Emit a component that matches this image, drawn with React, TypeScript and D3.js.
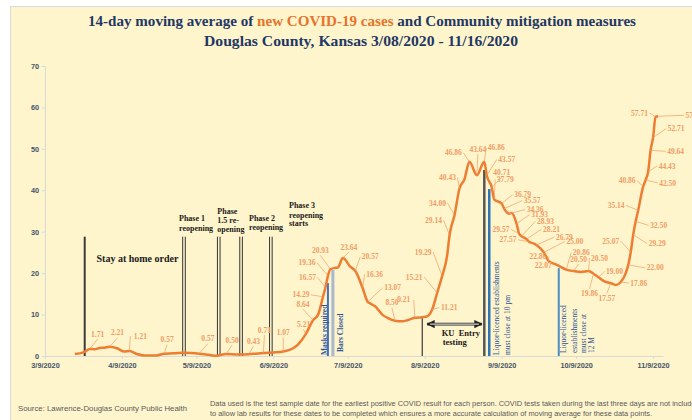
import React, { useEffect, useRef } from 'react';
import * as d3 from 'd3';

// 14-day moving average (date, cases)
const caseDates = [
  '2020-03-21', '2020-03-23', '2020-03-25', '2020-03-27', '2020-03-29', '2020-03-31',
  '2020-04-02', '2020-04-04', '2020-04-07', '2020-04-10', '2020-04-12', '2020-04-15',
  '2020-04-18', '2020-04-23', '2020-04-26', '2020-04-30', '2020-05-04', '2020-05-07',
  '2020-05-10', '2020-05-14', '2020-05-17', '2020-05-21', '2020-05-26', '2020-05-30',
  '2020-06-02', '2020-06-05', '2020-06-09', '2020-06-13', '2020-06-17', '2020-06-19',
  '2020-06-22', '2020-06-25', '2020-06-27', '2020-06-29', '2020-06-30', '2020-07-01',
  '2020-07-02', '2020-07-04', '2020-07-05', '2020-07-07', '2020-07-10', '2020-07-12',
  '2020-07-15', '2020-07-17', '2020-07-18', '2020-07-20', '2020-07-23', '2020-07-25',
  '2020-07-28', '2020-07-31', '2020-08-02', '2020-08-05', '2020-08-08', '2020-08-10',
  '2020-08-12', '2020-08-14', '2020-08-16', '2020-08-18', '2020-08-19', '2020-08-21',
  '2020-08-23', '2020-08-25', '2020-08-27', '2020-08-30', '2020-09-02', '2020-09-03',
  '2020-09-05', '2020-09-06', '2020-09-09', '2020-09-10', '2020-09-12', '2020-09-13',
  '2020-09-15', '2020-09-16', '2020-09-17', '2020-09-19', '2020-09-20', '2020-09-22',
  '2020-09-23', '2020-09-26', '2020-09-28', '2020-10-01', '2020-10-05', '2020-10-08',
  '2020-10-11', '2020-10-14', '2020-10-16', '2020-10-18', '2020-10-20', '2020-10-23',
  '2020-10-25', '2020-10-27', '2020-10-29', '2020-10-30', '2020-10-31', '2020-11-01',
  '2020-11-02', '2020-11-03', '2020-11-05', '2020-11-06', '2020-11-07', '2020-11-08',
  '2020-11-09', '2020-11-10', '2020-11-11',
];
const caseAvg = [
  0.5, 0.64, 1.0, 1.71, 1.64, 1.93,
  2.0, 2.21, 1.86, 1.07, 1.21, 0.5,
  0.14, 0.14, 0.57, 0.64, 0.79, 0.71,
  0.57, 0.29, 0.07, 0.5, 0.36, 0.43,
  0.57, 0.71, 0.86, 1.07, 1.86, 2.79,
  5.21, 8.64, 9.93, 14.29, 16.57, 19.36,
  20.93, 21.29, 21.36, 23.64, 21.57, 20.57,
  16.36, 13.07, 12.71, 12.0, 9.93, 9.21,
  8.5, 8.36, 8.64, 9.21, 9.36, 9.57,
  11.21, 15.21, 19.29, 24.14, 29.14, 34.0,
  40.43, 42.64, 46.86, 43.64, 46.86, 43.57,
  40.71, 37.79, 36.79, 35.57, 34.36, 34.5,
  31.93, 29.57, 28.93, 28.21, 27.57, 27.14,
  26.79, 25.0, 22.86, 22.07, 20.86, 20.5,
  20.29, 20.5, 19.86, 19.0, 18.14, 17.57,
  17.14, 17.86, 20.0, 22.0, 25.07, 29.29,
  32.5, 35.14, 40.86, 42.5, 44.43, 49.64,
  52.71, 57.71, 57.86,
];

// which points carry a data label
const labelDates = [
  '2020-03-27', '2020-04-04', '2020-04-12', '2020-04-26', '2020-05-10', '2020-05-21',
  '2020-05-30', '2020-06-05', '2020-06-13', '2020-06-22', '2020-06-25', '2020-06-29',
  '2020-06-30', '2020-07-01', '2020-07-02', '2020-07-07', '2020-07-12', '2020-07-15',
  '2020-07-17', '2020-07-28', '2020-08-05', '2020-08-12', '2020-08-14', '2020-08-16',
  '2020-08-19', '2020-08-21', '2020-08-23', '2020-08-27', '2020-08-30', '2020-09-02',
  '2020-09-03', '2020-09-05', '2020-09-06', '2020-09-09', '2020-09-10', '2020-09-12',
  '2020-09-15', '2020-09-16', '2020-09-17', '2020-09-19', '2020-09-20', '2020-09-23',
  '2020-09-26', '2020-09-28', '2020-10-01', '2020-10-05', '2020-10-08', '2020-10-14',
  '2020-10-16', '2020-10-18', '2020-10-23', '2020-10-27', '2020-10-30', '2020-10-31',
  '2020-11-01', '2020-11-02', '2020-11-03', '2020-11-05', '2020-11-06', '2020-11-07',
  '2020-11-08', '2020-11-09', '2020-11-10', '2020-11-11',
];
// label placement relative to its point (px)
const labelOffsets: [number, number][] = [
  [8, -15], [8, -14], [11, -15], [3, -14], [9, -15], [6, -14],
  [5, -13], [1, -23], [0, -19], [-2, -10], [-10, -16], [-22, -2],
  [-18, -10], [-21, -13], [-10, -19], [6, -11], [15, -14], [12, -14],
  [25, -14], [-3, -18], [-11, -18], [17, -2], [-23, -16], [-19, -24],
  [-16, -15], [-17, -12], [-12, -11], [-16, -9], [1, -26], [12, -14],
  [20, -16], [10, -15], [11, -20], [21, -9], [28, -8], [26, -4],
  [23, -9], [-18, -4], [24, -15], [25, -10], [-21, -2], [28, -8],
  [31, -11], [-11, -5], [-13, 1], [15, -17], [5, -12], [11, -13],
  [-4, 20], [16, -6], [-4, 15], [18, 1], [27, 3], [-20, -11],
  [24, 9], [23, 4], [-22, -5], [-16, -6], [22, 3], [19, -6],
  [25, 1], [23, -9], [-16, -4], [36, -1],
];

const xTickDates = [
  '2020-03-09', '2020-04-09', '2020-05-09', '2020-06-09', '2020-07-09',
  '2020-08-09', '2020-09-09', '2020-10-09', '2020-11-09',
];
const yTicks = [0, 10, 20, 30, 40, 50, 60, 70];

// mitigation measures: date of the marker line and how high it reaches (cases)
const stayHome = { date: '2020-03-25', top: 28.8 };
const phaseDates = ['2020-05-04', '2020-05-18', '2020-05-27', '2020-06-08'];
const phaseTop = 28.8;
const masks = { date: '2020-07-01', top: 17.6 };
const barsClosed = { date: '2020-07-03', top: 20.8 };
const kuEntry = { date: '2020-08-08', top: 9.4, arrowFrom: '2020-08-10', arrowTo: '2020-09-01', level: 7.7 };
const liquor10Gray = { date: '2020-09-02', top: 44.9 };
const liquor10Blue = { date: '2020-09-04', top: 40.3 };
const liquor12 = { date: '2020-10-02', top: 21.2 };

const parse = d3.timeParse('%Y-%m-%d');
const W = 692;
const H = 420;

const serif = "'Liberation Serif', 'DejaVu Serif', serif";
const sans = "'Liberation Sans', Arial, sans-serif";
const navy = '#1F3864';
const lineOrange = '#ED7D31';
const labelOrange = '#EF9C64';
const annoBlue = '#2F5597';

const App = () => {
  const xAxisRef = useRef<SVGGElement | null>(null);
  const yAxisRef = useRef<SVGGElement | null>(null);

  const x = d3
    .scaleTime()
    .domain([parse('2020-03-09') as Date, parse('2020-11-13') as Date])
    .range([45, 663]);
  const y = d3.scaleLinear().domain([0, 70]).range([356, 66]);

  const points = caseDates.map((d, i) => ({ date: parse(d) as Date, value: caseAvg[i] }));
  const line = d3
    .line<{ date: Date; value: number }>()
    .x((d) => x(d.date))
    .y((d) => y(d.value))
    .curve(d3.curveMonotoneX);

  useEffect(() => {
    const xa = d3
      .axisBottom(x)
      .tickValues(xTickDates.map((d) => parse(d) as Date))
      .tickFormat(d3.timeFormat('%-m/%-d/%Y') as any)
      .tickSize(3)
      .tickSizeOuter(0)
      .tickPadding(4);
    const ya = d3.axisLeft(y).tickValues(yTicks).tickSize(3).tickSizeOuter(0).tickPadding(3);
    const gx = d3.select(xAxisRef.current).call(xa as any);
    const gy = d3.select(yAxisRef.current).call(ya as any);
    [gx, gy].forEach((g: any) => {
      g.select('.domain').attr('stroke', '#D9D9D9');
      g.selectAll('.tick line').attr('stroke', '#D9D9D9');
      g.selectAll('.tick text')
        .attr('fill', '#44546A')
        .style('font-family', sans)
        .style('font-weight', 'bold')
        .style('font-size', '7.3px');
    });
  });

  const vline = (date: string, top: number, color: string, w: number, dx = 0) => {
    const px = x(parse(date) as Date) + dx;
    return <line x1={px} x2={px} y1={y(top)} y2={y(0)} stroke={color} strokeWidth={w} />;
  };

  const kuX1 = x(parse(kuEntry.arrowFrom) as Date);
  const kuX2 = x(parse(kuEntry.arrowTo) as Date);
  const kuY = y(kuEntry.level);

  return (
    <svg width={W} height={H} style={{ position: 'absolute', left: 0, top: 0 }}>
      <rect x={0} y={0} width={W} height={H} fill="#fff" />
      <rect x={10.5} y={6.5} width={W - 10} height={H - 6} fill="#FFF5CC" stroke="#D9D9D9" />

      <text x={362} y={26} textAnchor="middle" fontFamily={serif} fontWeight="bold" fontSize={14.5} fill={navy}
        textLength={548} lengthAdjust="spacingAndGlyphs">
        14-day moving average of <tspan fill="#E8732A">new COVID-19 cases</tspan> and Community mitigation measures
      </text>
      <text x={361} y={46} textAnchor="middle" fontFamily={serif} fontWeight="bold" fontSize={14.5} fill={navy}
        textLength={314} lengthAdjust="spacingAndGlyphs">
        Douglas County, Kansas 3/08/2020 - 11/16/2020
      </text>

      <g ref={yAxisRef} transform="translate(45,0)" />
      <g ref={xAxisRef} transform="translate(0,356)" />

      {/* mitigation marker lines */}
      {vline(stayHome.date, stayHome.top, '#3A3A3A', 2)}
      {phaseDates.map((d) => (
        <g key={d}>
          {vline(d, phaseTop, '#333', 1, -1.3)}
          {vline(d, phaseTop, '#333', 1, 1.3)}
        </g>
      ))}
      {vline(masks.date, masks.top, '#4472C4', 2)}
      {vline(barsClosed.date, barsClosed.top, '#A9B8CC', 3)}
      {vline(kuEntry.date, kuEntry.top, '#3A3A3A', 1.2)}
      {vline(liquor10Gray.date, liquor10Gray.top, '#555', 2.5)}
      {vline(liquor10Blue.date, liquor10Blue.top, '#2E75B6', 2.5)}
      {vline(liquor12.date, liquor12.top, '#4A8CC8', 2)}

      {/* KU entry testing arrow */}
      <defs>
        <marker id="ah" viewBox="0 0 10 10" refX="9" refY="5" markerWidth="3.2" markerHeight="3.2" orient="auto-start-reverse">
          <path d="M0,0 L10,5 L0,10 z" fill="#222" />
        </marker>
      </defs>
      <line x1={kuX1} x2={kuX2} y1={kuY} y2={kuY} stroke="#222" strokeWidth={2.6} markerStart="url(#ah)" markerEnd="url(#ah)" />
      <line x1={kuX1 + 3} x2={kuX2 - 3} y1={kuY} y2={kuY} stroke="#fff" strokeWidth={1} />

      {/* data line */}
      <path d={line(points) || ''} fill="none" stroke={lineOrange} strokeWidth={2.5} strokeLinejoin="round" />

      {/* data labels with leader lines */}
      <g fontFamily={serif} fontWeight="bold" fontSize={7.5} fill={labelOrange}>
        {labelDates.map((d, i) => {
          const idx = caseDates.indexOf(d);
          const v = caseAvg[idx];
          const px = x(parse(d) as Date);
          const py = y(v);
          const [dx, dy] = labelOffsets[i];
          const lx = px + dx;
          const ly = py + dy;
          const hw = 9;
          const hh = 4;
          let ex = lx;
          let ey = ly;
          if (Math.abs(dx) > hw + 1) {
            ex = lx - Math.sign(dx) * (hw + 1);
          } else {
            ey = ly - Math.sign(dy) * (hh + 1);
          }
          const dist = Math.hypot(ex - px, ey - py);
          return (
            <g key={d}>
              {dist > 4 && (
                <line x1={px} y1={py} x2={ex} y2={ey} stroke={labelOrange} strokeWidth={0.7} />
              )}
              <text x={lx} y={ly} dy="0.35em" textAnchor="middle">
                {v.toFixed(2)}
              </text>
            </g>
          );
        })}
      </g>

      {/* measure annotations */}
      <g fontFamily={serif} fontWeight="bold" fill="#1a1a1a">
        <text x={96.5} y={261.5} fontSize={10}>Stay at home order</text>
        <g fontSize={8}>
          <text x={179} y={221}>Phase 1</text>
          <text x={179} y={231}>reopening</text>
          <text x={217.3} y={213.5}>Phase</text>
          <text x={217.3} y={223}>1.5 re-</text>
          <text x={217.3} y={232}>opening</text>
          <text x={249} y={221}>Phase 2</text>
          <text x={249} y={230}>reopening</text>
          <text x={289} y={208}>Phase 3</text>
          <text x={289} y={218}>reopening</text>
          <text x={289} y={226}>starts</text>
        </g>
        <text x={441.7} y={335.5} fontSize={8.5} xmlSpace="preserve">KU  Entry</text>
        <text x={442.7} y={344.5} fontSize={8.5}>testing</text>
      </g>
      <g fontFamily={serif} fontSize={7.5} fill={annoBlue}>
        <text transform="translate(326.5,355) rotate(-90)" fontWeight="bold">Masks required</text>
        <text transform="translate(343,352) rotate(-90)" fontWeight="bold">Bars Closed</text>
        <text transform="translate(499,355) rotate(-90)">Liquor-licenced establishments</text>
        <text transform="translate(510,355) rotate(-90)">must close at 10 pm</text>
        <text transform="translate(566,353) rotate(-90)">Liquor-licenced</text>
        <text transform="translate(577,353) rotate(-90)">establishments</text>
        <text transform="translate(585.5,353) rotate(-90)">must close at</text>
        <text transform="translate(594,353) rotate(-90)">12 M</text>
      </g>

      {/* footer */}
      <text x={18} y={411} fontFamily={sans} fontSize={7.8} fill="#595959">
        Source:  Lawrence-Douglas County Public Health
      </text>
      <g fontFamily={sans} fontSize={7.4} fill="#595959">
        <text x={210} y={406}>
          Data used is the test sample date for the earliest positive COVID result for each person.  COVID tests taken during the last three days are not included
        </text>
        <text x={210} y={416}>
          to allow lab results for these dates to be completed which ensures a more accurate calculation of moving average for these data points.
        </text>
      </g>
    </svg>
  );
};

export default App;
